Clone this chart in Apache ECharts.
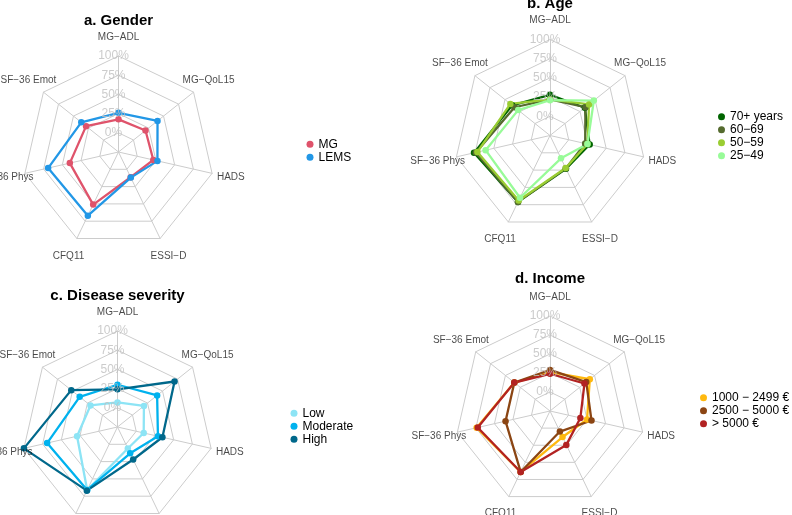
<!DOCTYPE html>
<html><head><meta charset="utf-8">
<script src="https://cdn.jsdelivr.net/npm/echarts@6/dist/echarts.min.js"></script>
<style>html,body{margin:0;padding:0;background:#fff}#c{width:792px;height:515px}</style>
</head><body><div id="c"></div>
<script>
// ---- data ----
// indicator order as drawn counter-clockwise from the top
const categories = ['MG\u2212ADL', 'SF\u221236 Emot', 'SF\u221236 Phys', 'CFQ11', 'ESSI\u2212D', 'HADS', 'MG\u2212QoL15'];
const percentTicks = [0, 25, 50, 75, 100];

const genderGroups = ['MG', 'LEMS'];
const genderMG   = [17.5, 29, 40, 51, 11.5, 21.5, 20];
const genderLEMS = [26, 37, 69, 67, 12, 27, 40];

const ageGroups = ['70+ years', '60\u221269', '50\u221259', '25\u221249'];
const age70  = [28, 38, 76.5, 71, 23, 28, 33];
const age60  = [22, 34, 74, 71, 22.5, 22, 34];
const age50  = [22, 41, 72, 69, 22, 25, 40];
const age25  = [21, 28, 61, 65, 8, 25, 48];

const severityGroups = ['Low', 'Moderate', 'High'];
const sevLow  = [7, 20, 29, 66, 6, 10, 19];
const sevMod  = [30, 38, 69, 66, 13, 29, 41];
const sevHigh = [24, 52, 100, 67, 22, 35, 70];

const incomeGroups = ['1000 \u2212 2499 \u20ac', '2500 \u2212 5000 \u20ac', '> 5000 \u20ac'];
const incLow  = [26, 35, 74, 64, 13, 25, 42];
const incMid  = [29, 35, 35, 64, 5, 31, 36];
const incHigh = [24, 35, 72.5, 64, 24.5, 16, 33];

// ---- layout / style ----
const FONT = "'Liberation Sans', Arial, Helvetica, sans-serif";
const GRID = '#CCCCCC';
const AXIS_MIN = -25, AXIS_MAX = 100, NAME_POS = 125;

const panels = [
  {title: 'a. Gender', cx: 118.5, cy: 152, r: 96, titleTop: 13, legLeft: 306.5, legTop: 138.3,
   groups: genderGroups, values: [genderMG, genderLEMS], colors: ['#DF536B', '#2297E6']},
  {title: 'b. Age', cx: 550, cy: 135.5, r: 96, titleTop: -4, legLeft: 718, legTop: 110.7,
   groups: ageGroups, values: [age70, age60, age50, age25], colors: ['#006400', '#556B2F', '#9ACD32', '#98FB98']},
  {title: 'c. Disease severity', cx: 117.5, cy: 427, r: 96, titleTop: 288, legLeft: 290.5, legTop: 407.3,
   groups: severityGroups, values: [sevLow, sevMod, sevHigh], colors: ['#8DE4F5', '#00B2EE', '#00688B']},
  {title: 'd. Income', cx: 550, cy: 411, r: 95, titleTop: 271, legLeft: 700, legTop: 391.7,
   groups: incomeGroups, values: [incLow, incMid, incHigh], colors: ['#FFB90F', '#8B4513', '#B22222']}
];

const option = {animation: false, title: [], radar: [], polar: [], angleAxis: [], radiusAxis: [], legend: [], series: []};

panels.forEach((p, k) => {
  option.title.push({text: p.title, left: p.cx, top: p.titleTop, textAlign: 'center', padding: 0,
    textStyle: {fontFamily: FONT, fontSize: 15, fontWeight: 'bold', color: '#000'}});
  option.radar.push({center: [p.cx, p.cy], radius: p.r, startAngle: 90, shape: 'polygon', splitNumber: 5,
    indicator: categories.map(c => ({name: c, min: AXIS_MIN, max: AXIS_MAX})),
    axisName: {show: false},
    splitLine: {lineStyle: {color: GRID, width: 1}},
    splitArea: {show: false},
    axisLine: {lineStyle: {color: GRID, width: 1}},
    axisTick: {show: false}, axisLabel: {show: false}});
  option.polar.push({center: [p.cx, p.cy], radius: p.r * (NAME_POS - AXIS_MIN) / (AXIS_MAX - AXIS_MIN)});
  option.angleAxis.push({polarIndex: k, type: 'value', min: 0, max: 360, startAngle: 90, clockwise: false, show: false});
  option.radiusAxis.push({polarIndex: k, type: 'value', min: AXIS_MIN, max: NAME_POS, show: false});
  option.legend.push({orient: 'vertical', left: p.legLeft, top: p.legTop, itemWidth: 7, itemHeight: 7, itemGap: 1,
    icon: 'circle', padding: 0, selectedMode: false, data: p.groups,
    textStyle: {fontFamily: FONT, fontSize: 12, color: '#000'}});
  option.series.push({type: 'radar', radarIndex: k, symbol: 'circle', symbolSize: 6.5, silent: true,
    data: p.groups.map((g, i) => ({name: g, value: p.values[i],
      lineStyle: {color: p.colors[i], width: 2.3}, itemStyle: {color: p.colors[i]}}))});
  option.series.push({type: 'scatter', coordinateSystem: 'polar', polarIndex: k, silent: true, clip: false,
    symbolSize: 1, itemStyle: {color: 'transparent'},
    data: categories.map((c, i) => ({name: c, value: [NAME_POS, i * 360 / categories.length]})),
    label: {show: true, position: 'inside', formatter: d => d.name,
      fontFamily: FONT, fontSize: 10, color: '#1a1a1a'}});
  option.series.push({type: 'scatter', coordinateSystem: 'polar', polarIndex: k, silent: true, clip: false,
    symbolSize: 1, itemStyle: {color: 'transparent'},
    data: percentTicks.map(v => ({name: v + '%', value: [v, 0]})),
    label: {show: true, position: 'inside', formatter: d => d.name, offset: [-5, 0],
      fontFamily: FONT, fontSize: 12, color: '#BEBEBE'}});
});

const chart = echarts.init(document.getElementById('c'), null, {renderer: 'canvas'});
chart.setOption(option);
</script></body></html>
